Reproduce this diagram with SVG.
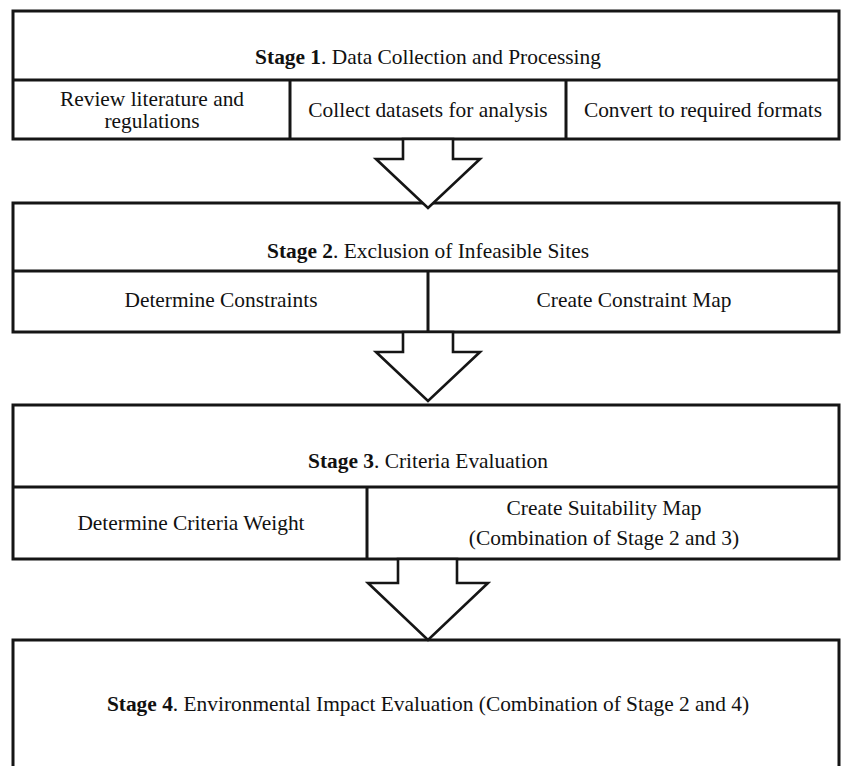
<svg xmlns="http://www.w3.org/2000/svg" width="842" height="766" viewBox="0 0 842 766">
<style>
.box{fill:#fff;stroke:#151515;stroke-width:3}
.div{fill:none;stroke:#151515;stroke-width:3}
.arr{fill:#fff;stroke:#151515;stroke-width:2.6;stroke-linejoin:miter}
text{font-family:"Liberation Serif","Times New Roman",serif;font-size:21.4px;fill:#111;text-anchor:middle}
.b{font-weight:bold}
</style>
<rect width="842" height="766" fill="#fff"/>
<g id="stage1">
<rect class="box" x="13" y="11" width="826" height="128"/>
<line class="div" x1="13" y1="80" x2="839" y2="80"/>
<line class="div" x1="290" y1="80" x2="290" y2="139"/>
<line class="div" x1="566" y1="80" x2="566" y2="139"/>
<text x="428" y="64"><tspan class="b">Stage 1</tspan>. Data Collection and Processing</text>
<text x="152" y="106">Review literature and</text>
<text x="152" y="128">regulations</text>
<text x="428" y="117">Collect datasets for analysis</text>
<text x="703" y="117">Convert to required formats</text>
</g>
<g id="stage2">
<rect class="box" x="13" y="203" width="826" height="129"/>
<line class="div" x1="13" y1="271" x2="839" y2="271"/>
<line class="div" x1="428" y1="271" x2="428" y2="332"/>
<text x="428" y="258"><tspan class="b">Stage 2</tspan>. Exclusion of Infeasible Sites</text>
<text x="221" y="307">Determine Constraints</text>
<text x="634" y="307">Create Constraint Map</text>
</g>
<g id="stage3">
<rect class="box" x="13" y="405" width="826" height="154"/>
<line class="div" x1="13" y1="487" x2="839" y2="487"/>
<line class="div" x1="367" y1="487" x2="367" y2="559"/>
<text x="428" y="468"><tspan class="b">Stage 3</tspan>. Criteria Evaluation</text>
<text x="191" y="530">Determine Criteria Weight</text>
<text x="604" y="515">Create Suitability Map</text>
<text x="604" y="545">(Combination of Stage 2 and 3)</text>
</g>
<g id="stage4">
<path class="div" d="M13,772 V640 H839 V772"/>
<text x="428" y="711"><tspan class="b">Stage 4</tspan>. Environmental Impact Evaluation (Combination of Stage 2 and 4)</text>
</g>
<g id="connectors">
<path class="arr" d="M403,139 V159 H376 L428,208 L480,159 H453 V139 Z"/>
<path class="arr" d="M403,332 V352 H376 L428,401 L480,352 H453 V332 Z"/>
<path class="arr" d="M398,559 V583 H368 L428,640 L488,583 H457 V559 Z"/>
</g>
</svg>
